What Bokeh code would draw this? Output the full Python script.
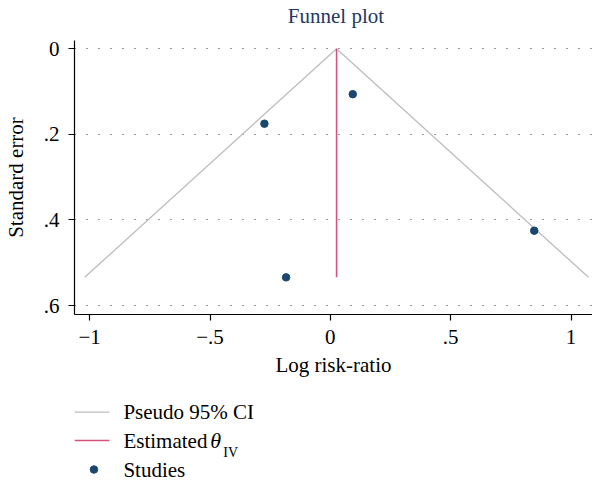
import numpy as np
from bokeh.plotting import figure
from bokeh.layouts import column
from bokeh.models import Range1d, FixedTicker
from bokeh.core.properties import value
from bokeh.embed import file_html
from bokeh.resources import INLINE

# Per-study log risk-ratios and their standard errors
study_log_rr = [-0.274, 0.093, -0.184, 0.847]
study_se = [0.175, 0.106, 0.534, 0.425]

# Axis ticks and their printed labels
x_ticks = [-1, -0.5, 0, 0.5, 1]
x_tick_labels = ["\u22121", "\u2212.5", "0", ".5", "1"]
y_ticks = [0, 0.2, 0.4, 0.6]
y_tick_labels = ["0", ".2", ".4", ".6"]

# Legend entries
legend_labels = ["Pseudo 95% CI", "Estimated", "Studies"]

# Inverse-variance pooled estimate and pseudo 95% confidence funnel
weights = 1.0 / np.asarray(study_se) ** 2
theta_iv = float(np.sum(weights * np.asarray(study_log_rr)) / np.sum(weights))
se_max = max(study_se)
z = 1.96
funnel_x = [theta_iv - z * se_max, theta_iv, theta_iv + z * se_max]
funnel_y = [se_max, 0.0, se_max]

FONT = "Liberation Serif"
FS = "21px"
CI_COLOR = "#bdbdbd"
THETA_COLOR = "#d6537a"
POINT_COLOR = "#1a476f"
TITLE_COLOR = "#1f3864"

W = 592
LEFT = 73          # width reserved for the y axis
H_TITLE = 28
TOP_PAD = 12       # room above the frame for the top tick label
FRAME_H = 274
BOTTOM = 76        # x axis with its labels
H_MAIN = TOP_PAD + FRAME_H + BOTTOM
H_LEG = 481 - H_TITLE - H_MAIN


def pixel_panel(height):
    """A bare figure whose data units are pixels, used for title and legend."""
    f = figure(
        width=W, height=height,
        x_range=Range1d(LEFT, W), y_range=Range1d(height, 0),
        output_backend="svg", toolbar_location=None,
        min_border=0, min_border_left=LEFT, min_border_right=0,
    )
    f.axis.visible = False
    f.grid.visible = False
    f.outline_line_color = None
    return f


# ---- title ----
head = pixel_panel(H_TITLE)
head.text(x=[335], y=[15.5], text=["Funnel plot"], text_align="center",
          text_baseline="middle", text_font=value(FONT), text_font_size="21px",
          text_color=TITLE_COLOR)

# ---- funnel plot ----
p = figure(
    width=W, height=H_MAIN,
    x_range=Range1d(-1.063, 1.089),
    y_range=Range1d(0.6208, -0.0194),
    output_backend="svg", toolbar_location=None,
    min_border_left=LEFT, min_border_right=0,
    min_border_top=TOP_PAD, min_border_bottom=BOTTOM,
)
p.outline_line_color = None

p.line(funnel_x, funnel_y, line_color=CI_COLOR, line_width=1.3)
p.line([theta_iv, theta_iv], [0.0, se_max], line_color=THETA_COLOR, line_width=1.6)
p.scatter(study_log_rr, study_se, size=7.5, fill_color=POINT_COLOR, line_color=POINT_COLOR)

for ax in (p.xaxis[0], p.yaxis[0]):
    ax.axis_line_color = "black"
    ax.axis_line_width = 1.2
    ax.major_tick_line_color = "black"
    ax.major_tick_line_width = 1.2
    ax.major_tick_out = 6
    ax.major_tick_in = 0
    ax.minor_tick_line_color = None
    ax.major_label_text_font = FONT
    ax.major_label_text_font_size = FS
    ax.major_label_text_color = "black"
    ax.axis_label_text_font = FONT
    ax.axis_label_text_font_size = FS
    ax.axis_label_text_font_style = "normal"
    ax.axis_label_text_color = "black"

p.xaxis.ticker = FixedTicker(ticks=x_ticks)
p.xaxis.major_label_overrides = dict(zip(x_ticks, x_tick_labels))
p.xaxis.axis_label = "Log risk-ratio"
p.xaxis.major_label_standoff = 9
p.xaxis.axis_label_standoff = 6

p.yaxis.ticker = FixedTicker(ticks=y_ticks)
p.yaxis.major_label_overrides = dict(zip(y_ticks, y_tick_labels))
p.yaxis.axis_label = "Standard error"
p.yaxis.major_label_standoff = 9
p.yaxis.axis_label_standoff = 13

p.xgrid.visible = False
p.ygrid.ticker = FixedTicker(ticks=y_ticks)
p.ygrid.grid_line_color = "#333333"
p.ygrid.grid_line_dash = "1 11"
p.ygrid.grid_line_width = 1

# ---- legend ----
leg = pixel_panel(H_LEG)
row_y = [21.7, 50.0, 79.0]
key_x0, key_x1, text_x = 73, 108, 122

leg.segment(x0=[key_x0], y0=[row_y[0]], x1=[key_x1], y1=[row_y[0]],
            line_color=CI_COLOR, line_width=1.3)
leg.segment(x0=[key_x0], y0=[row_y[1]], x1=[key_x1], y1=[row_y[1]],
            line_color=THETA_COLOR, line_width=1.6)
leg.scatter(x=[(key_x0 + key_x1) / 2 + 2], y=[row_y[2]], size=7.5,
            fill_color=POINT_COLOR, line_color=POINT_COLOR)
leg.text(x=[text_x] * 3, y=row_y, text=legend_labels,
         text_baseline="middle", text_align="left",
         text_font=value(FONT), text_font_size=FS, text_color="black")
# pooled-estimate symbol with its subscript
leg.text(x=[209], y=[row_y[1]], text=["\u03b8"], text_baseline="middle",
         text_font=value(FONT), text_font_size="22px", text_font_style="italic",
         text_color="black")
leg.text(x=[222], y=[row_y[1] + 11.7], text=["IV"], text_baseline="alphabetic",
         text_font=value(FONT), text_font_size="14px", text_color="black")

layout = column(head, p, leg, spacing=0)
open("out.html", "w").write(file_html(layout, INLINE))
